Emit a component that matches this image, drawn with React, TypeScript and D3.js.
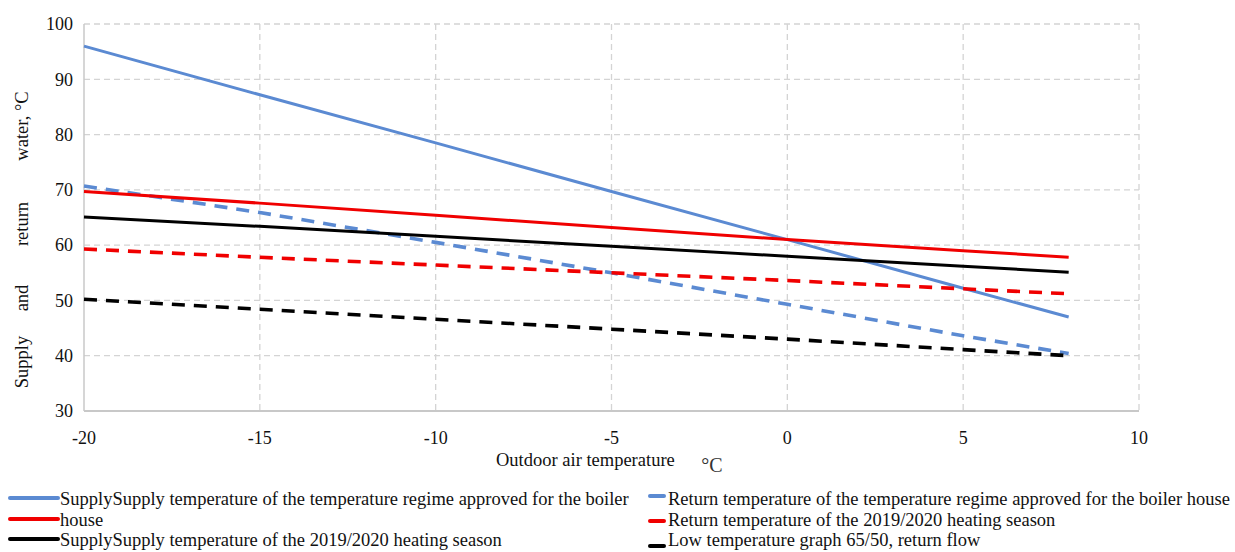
import React from "react";
import * as d3 from "d3";

const outdoorTemps = [-20, -15, -10, -5, 0, 5, 8];
const supplyApproved = [96, 87.2, 78.5, 69.7, 61, 52.2, 47];
const returnApproved = [70.7, 65.9, 60.5, 55, 49.3, 43.6, 40.4];
const supplySeason = [69.7, 67.6, 65.4, 63.2, 61, 59, 57.8];
const returnSeason = [59.3, 57.8, 56.4, 55, 53.6, 52.1, 51.2];
const supplyLow = [65.1, 63.4, 61.6, 59.8, 58, 56.2, 55.1];
const returnLow = [50.2, 48.4, 46.6, 44.8, 43, 41.1, 40.0];

const xTicks = [-20, -15, -10, -5, 0, 5, 10];
const yTicks = [30, 40, 50, 60, 70, 80, 90, 100];

const seriesNames = [
  "SupplySupply temperature of the temperature regime approved for the boiler",
  "house",
  "SupplySupply temperature of the 2019/2020 heating season",
  "Return temperature of the temperature regime approved for the boiler house",
  "Return temperature of the 2019/2020 heating season",
  "Low temperature graph 65/50, return flow",
];

const BLUE = "#5b8ad2";
const RED = "#f00000";
const BLACK = "#000000";

export default function App() {
  const W = 1235, H = 552;
  const x = d3.scaleLinear().domain([-20, 10]).range([84, 1139]);
  const y = d3.scaleLinear().domain([30, 100]).range([411, 24]);
  const font = "'Liberation Serif', 'Times New Roman', serif";

  const series = [
    { v: supplyApproved, c: BLUE, dash: null },
    { v: returnApproved, c: BLUE, dash: "13 9" },
    { v: supplySeason, c: RED, dash: null },
    { v: returnSeason, c: RED, dash: "13 9" },
    { v: supplyLow, c: BLACK, dash: null },
    { v: returnLow, c: BLACK, dash: "13 9" },
  ];
  const line = d3
    .line<number>()
    .x((_, i) => x(outdoorTemps[i]))
    .y((d) => y(d));

  const grid = "#d4d4d4";

  const legendLeft = [
    { name: seriesNames[0], c: BLUE, y: 499 },
    { name: seriesNames[1], c: RED, y: 520 },
    { name: seriesNames[2], c: BLACK, y: 540 },
  ];
  const legendRight = [
    { name: seriesNames[3], c: BLUE, y: 499, my: 496 },
    { name: seriesNames[4], c: RED, y: 520, my: 521 },
    { name: seriesNames[5], c: BLACK, y: 540, my: 546 },
  ];

  const yWords = [
    { t: "Supply", y: 362 },
    { t: "and", y: 298 },
    { t: "return", y: 224 },
    { t: "water, \u00B0C", y: 126 },
  ];

  return (
    <svg
      width={W}
      height={H}
      style={{ position: "absolute", left: 0, top: 0, background: "#fff" }}
      fontFamily={font}
    >
      <rect width={W} height={H} fill="#fff" />
      {yTicks.filter((t) => t > 30).map((t) => (
        <line key={"h" + t} x1={x(-20)} x2={x(10)} y1={y(t)} y2={y(t)} stroke={grid} strokeWidth={1.3} strokeDasharray="6 4" />
      ))}
      {xTicks.filter((t) => t > -20).map((t) => (
        <line key={"v" + t} x1={x(t)} x2={x(t)} y1={y(100)} y2={y(30)} stroke={grid} strokeWidth={1.3} strokeDasharray="6 4" />
      ))}
      <line x1={x(-20)} x2={x(-20)} y1={y(100)} y2={y(30)} stroke="#c8c8c8" strokeWidth={1.5} />
      <line x1={x(-20)} x2={x(10)} y1={y(30)} y2={y(30)} stroke="#c8c8c8" strokeWidth={1.8} />
      {yTicks.map((t) => (
        <text key={"yt" + t} x={73} y={y(t)} dy="0.35em" textAnchor="end" fontSize={18} fill="#111">
          {t}
        </text>
      ))}
      {xTicks.map((t) => (
        <text key={"xt" + t} x={x(t)} y={444} textAnchor="middle" fontSize={18} fill="#111">
          {t}
        </text>
      ))}
      {series.map((s, i) => (
        <path
          key={"s" + i}
          d={line(s.v) || ""}
          fill="none"
          stroke={s.c}
          strokeWidth={s.dash ? 3.6 : 3}
          strokeDasharray={s.dash || undefined}
        />
      ))}
      <text x={496} y={466} fontSize={18.5} fill="#111">
        Outdoor air temperature
      </text>
      <text x={712} y={472} textAnchor="middle" fontSize={20} fill="#333">
        {"\u00B0C"}
      </text>
      {yWords.map((w) => (
        <text
          key={w.t}
          transform={`translate(28,${w.y}) rotate(-90)`}
          textAnchor="middle"
          fontSize={18.5}
          fill="#111"
        >
          {w.t}
        </text>
      ))}
      {legendLeft.map((l) => (
        <g key={l.name}>
          <line x1={10} x2={58} y1={l.y - 1} y2={l.y - 1} stroke={l.c} strokeWidth={4} strokeLinecap="round" />
          <text x={60} y={l.y} dy="0.32em" fontSize={18.5} fill="#111">
            {l.name}
          </text>
        </g>
      ))}
      {legendRight.map((l) => (
        <g key={l.name}>
          <line x1={650} x2={664} y1={l.my} y2={l.my} stroke={l.c} strokeWidth={4} strokeLinecap="round" />
          <text x={668} y={l.y} dy="0.32em" fontSize={18.5} fill="#111">
            {l.name}
          </text>
        </g>
      ))}
    </svg>
  );
}
